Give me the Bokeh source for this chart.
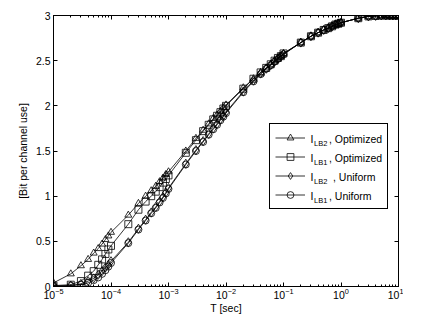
from bokeh.plotting import figure
from bokeh.models import (Range1d, FixedTicker, LogAxis, LinearAxis, Legend, LegendItem,
                          Label, CustomJSTickFormatter, LogTickFormatter, Spacer)
from bokeh.layouts import row, column
from bokeh.embed import file_html
from bokeh.resources import INLINE

# ---------------- data ----------------
T = [1e-5, 2e-5, 3e-5, 4e-5, 5e-5, 6e-5, 7e-5, 8e-5, 9e-5,
     1e-4, 2e-4, 3e-4, 4e-4, 5e-4, 6e-4, 7e-4, 8e-4, 9e-4,
     1e-3, 2e-3, 3e-3, 4e-3, 5e-3, 6e-3, 7e-3, 8e-3, 9e-3,
     1e-2, 2e-2, 3e-2, 4e-2, 5e-2, 6e-2, 7e-2, 8e-2, 9e-2,
     1e-1, 2e-1, 3e-1, 4e-1, 5e-1, 6e-1, 7e-1, 8e-1, 9e-1,
     1.0, 2.0, 3.0, 4.0, 5.0, 6.0, 7.0, 8.0, 9.0, 10.0]

lb2_opt = [0.04, 0.14, 0.23, 0.30, 0.37, 0.42, 0.47, 0.52, 0.56,
           0.60, 0.79, 0.92, 1.00, 1.06, 1.11, 1.16, 1.20, 1.24,
           1.27, 1.50, 1.64, 1.73, 1.80, 1.86, 1.90, 1.94, 1.98,
           2.01, 2.20, 2.30, 2.37, 2.42, 2.46, 2.50, 2.53, 2.55,
           2.58, 2.70, 2.77, 2.81, 2.84, 2.86, 2.88, 2.90, 2.91,
           2.92, 2.97, 2.99, 2.995, 3.0, 3.0, 3.0, 3.0, 3.0, 3.0]

lb1_opt = [0.01, 0.02, 0.06, 0.12, 0.17, 0.24, 0.30, 0.36, 0.41,
           0.45, 0.69, 0.85, 0.94, 1.00, 1.05, 1.10, 1.15, 1.19,
           1.23, 1.48, 1.62, 1.72, 1.79, 1.85, 1.89, 1.93, 1.97,
           2.00, 2.19, 2.30, 2.37, 2.42, 2.46, 2.50, 2.53, 2.55,
           2.58, 2.70, 2.77, 2.81, 2.84, 2.86, 2.88, 2.90, 2.91,
           2.92, 2.97, 2.99, 2.995, 3.0, 3.0, 3.0, 3.0, 3.0, 3.0]

lb2_uni = [0.01, 0.01, 0.03, 0.06, 0.09, 0.13, 0.17, 0.21, 0.24,
           0.28, 0.49, 0.64, 0.74, 0.82, 0.88, 0.94, 0.99, 1.04,
           1.09, 1.36, 1.51, 1.61, 1.69, 1.75, 1.80, 1.85, 1.89,
           1.93, 2.16, 2.28, 2.36, 2.41, 2.45, 2.49, 2.52, 2.55,
           2.57, 2.70, 2.77, 2.81, 2.84, 2.86, 2.88, 2.90, 2.91,
           2.92, 2.97, 2.99, 2.995, 3.0, 3.0, 3.0, 3.0, 3.0, 3.0]

lb1_uni = [0.00, 0.01, 0.02, 0.04, 0.07, 0.10, 0.14, 0.18, 0.22,
           0.26, 0.48, 0.63, 0.73, 0.81, 0.87, 0.93, 0.98, 1.03,
           1.08, 1.35, 1.50, 1.60, 1.68, 1.74, 1.79, 1.84, 1.88,
           1.92, 2.15, 2.27, 2.35, 2.41, 2.45, 2.49, 2.52, 2.55,
           2.57, 2.70, 2.77, 2.81, 2.84, 2.86, 2.88, 2.90, 2.91,
           2.92, 2.97, 2.99, 2.995, 3.0, 3.0, 3.0, 3.0, 3.0, 3.0]

x_major = [1e-5, 1e-4, 1e-3, 1e-2, 1e-1, 1e0, 1e1]
x_minor = [m * d for d in [1e-5, 1e-4, 1e-3, 1e-2, 1e-1, 1e0] for m in range(2, 10)]
y_ticks = [0, 0.5, 1, 1.5, 2, 2.5, 3]

legend_main = ["I", "I", "I", "I"]
legend_sub = ["LB2", "LB1", "LB2", "LB1"]
legend_rest = [", Optimized", ", Optimized", ", Uniform", ", Uniform"]

FONT = "Liberation Sans"
FS = "10.5px"

# ---------------- figure ----------------
p = figure(frame_width=345, frame_height=271, x_axis_type="log",
           x_range=Range1d(1e-5, 10), y_range=Range1d(0, 3),
           output_backend="svg", toolbar_location=None,
           min_border_left=36, min_border_right=5, min_border_top=5, min_border_bottom=5)
p.xgrid.visible = False
p.ygrid.visible = False
p.outline_line_color = "black"
p.outline_line_width = 1
p.background_fill_color = "white"
p.border_fill_color = "white"

xt = FixedTicker(ticks=x_major, minor_ticks=x_minor)
yt = FixedTicker(ticks=y_ticks)

def style_axis(ax):
    ax.major_tick_in = 4
    ax.major_tick_out = 0
    ax.minor_tick_in = 2
    ax.minor_tick_out = 0
    ax.axis_line_color = "black"
    ax.major_tick_line_color = "black"
    ax.minor_tick_line_color = "black"
    ax.major_label_text_font = FONT
    ax.major_label_text_font_size = FS
    ax.major_label_text_color = "black"
    ax.axis_label_text_font = FONT
    ax.axis_label_text_font_size = FS
    ax.axis_label_text_font_style = "normal"
    ax.axis_label_text_color = "black"

xa = p.xaxis[0]
xa.ticker = xt
xa.formatter = LogTickFormatter()
xa.axis_label = "T [sec]"
style_axis(xa)
xa.major_label_standoff = 1
xa.axis_label_standoff = 0

ya = p.yaxis[0]
ya.ticker = yt
ya.axis_label = "[Bit per channel use]"
style_axis(ya)
ya.major_label_standoff = 3
ya.axis_label_standoff = 4
ya.minor_tick_in = 0

empty = CustomJSTickFormatter(code="return ''")
top = LogAxis(ticker=xt, formatter=empty)
style_axis(top)
top.major_label_standoff = 0
top.axis_label_standoff = 0
top.major_label_text_font_size = "1px"
p.add_layout(top, "above")
right = LinearAxis(ticker=yt, formatter=empty)
style_axis(right)
right.major_label_standoff = 0
right.axis_label_standoff = 0
right.major_label_text_font_size = "1px"
right.minor_tick_in = 0
p.add_layout(right, "right")

# ---------------- series ----------------
series = [
    (lb2_opt, "triangle"),
    (lb1_opt, "square"),
    (lb2_uni, "diamond"),
    (lb1_uni, "circle"),
]
items = []
for ys, marker in series:
    lr = p.line(T, ys, line_color="black", line_width=0.8)
    sr = p.scatter(T, ys, marker=marker, size=7 if marker != "diamond" else 9,
                   fill_color=None, line_color="black", line_width=0.8)
    items.append(LegendItem(label=" ", renderers=[lr, sr]))

# ---------------- legend ----------------
LX, LY = 216, 77
PAD, GH, SP = 5, 17, 2
leg = Legend(items=items, location=(LX, LY), padding=PAD, spacing=SP,
             glyph_height=GH, glyph_width=30, label_height=GH, label_width=73,
             label_standoff=4, margin=0,
             border_line_color="black", border_line_width=1, border_line_alpha=1,
             background_fill_color=None, background_fill_alpha=0,
             label_text_font=FONT, label_text_font_size=FS)
p.add_layout(leg, "center")

leg_h = 2 * PAD + 4 * GH + 3 * SP
for i in range(4):
    cy = LY + leg_h - PAD - GH / 2 - i * (GH + SP)
    x0 = LX + PAD + 30 + 6
    p.add_layout(Label(x=x0, y=cy, x_units="screen", y_units="screen",
                       text=legend_main[i], text_font=FONT, text_font_size=FS,
                       text_baseline="middle", text_color="black"))
    p.add_layout(Label(x=x0 + 3.5, y=cy - 4, x_units="screen", y_units="screen",
                       text=legend_sub[i], text_font=FONT, text_font_size="7.5px",
                       text_baseline="middle", text_color="black"))
    rx = x0 + 18.5 + (4 if i == 2 else 0)
    p.add_layout(Label(x=rx, y=cy, x_units="screen", y_units="screen",
                       text=legend_rest[i], text_font=FONT, text_font_size=FS,
                       text_baseline="middle", text_color="black"))

layout = column(Spacer(height=10), row(Spacer(width=13), p))
open("out.html", "w").write(file_html(layout, INLINE))
